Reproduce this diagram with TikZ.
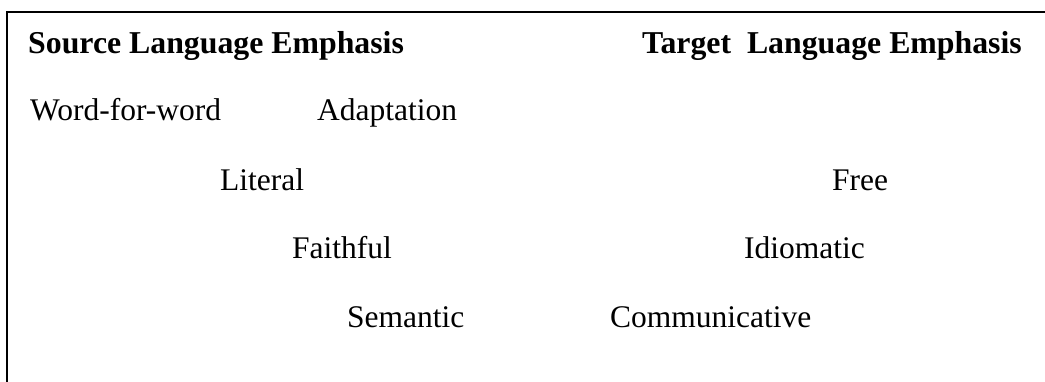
\documentclass[tikz,border=0pt]{standalone}
\usepackage{fontspec}
\setmainfont{Liberation Serif}
\begin{document}
\begin{tikzpicture}[x=1pt,y=-1pt,
  lbl/.style={anchor=base west,inner sep=0pt,font=\fontsize{31.5}{36}\selectfont},
  hdr/.style={lbl,font=\fontsize{31.8}{36}\selectfont\bfseries}]
\useasboundingbox (0,0) rectangle (1045,381);
\coordinate (tl) at (7,11.5);
\coordinate (tr) at (1046,11.5);
\coordinate (bl) at (7,382);
\draw[line width=2pt] (tr) -- (tl) -- (bl);
\node[hdr] (src) at (28,53) {Source Language Emphasis};
\node[hdr] (tgt) at (642,53) {Target~~Language Emphasis};
\node[lbl] (wfw) at (30,120) {Word-for-word};
\node[lbl] (adp) at (317,120) {Adaptation};
\node[lbl] (lit) at (220,190) {Literal};
\node[lbl] (fre) at (832,190) {Free};
\node[lbl] (fai) at (292,258) {Faithful};
\node[lbl] (idi) at (744,258) {Idiomatic};
\node[lbl] (sem) at (347,327) {Semantic};
\node[lbl] (com) at (610,327) {Communicative};
\end{tikzpicture}
\end{document}
